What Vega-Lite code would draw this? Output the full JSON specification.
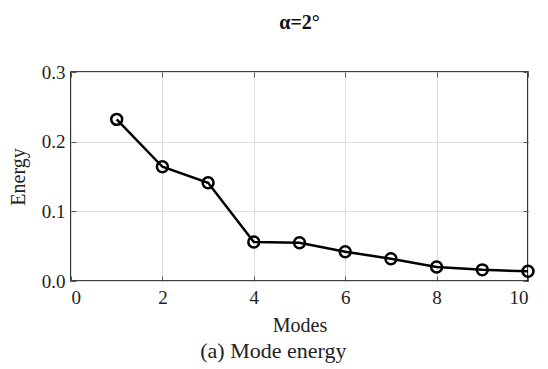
{
  "$schema": "https://vega.github.io/schema/vega-lite/v6.json",
  "background": "white",
  "padding": {"left": 7, "right": 3, "top": 12, "bottom": 2},
  "config": {
    "font": "Liberation Serif",
    "view": {"stroke": "black", "strokeWidth": 1.6},
    "axis": {"labelFont": "Liberation Serif", "titleFont": "Liberation Serif", "labelFontSize": 19, "titleFontSize": 20, "labelColor": "#222", "titleColor": "#222", "titleFontWeight": "normal"}
  },
  "title": {"text": "(a) Mode energy", "orient": "bottom", "anchor": "middle", "font": "Liberation Serif", "fontSize": 22, "fontWeight": "normal", "color": "#222", "offset": 5},
  "vconcat": [
    {
      "title": {"text": "α=2°", "anchor": "middle", "font": "Liberation Serif", "fontSize": 20, "fontWeight": "bold", "color": "#111", "offset": 30},
      "width": 457,
      "height": 209,
      "data": {"values": [
        {"mode": 1, "energy": 0.232},
        {"mode": 2, "energy": 0.164},
        {"mode": 3, "energy": 0.141},
        {"mode": 4, "energy": 0.056},
        {"mode": 5, "energy": 0.055},
        {"mode": 6, "energy": 0.042},
        {"mode": 7, "energy": 0.032},
        {"mode": 8, "energy": 0.020},
        {"mode": 9, "energy": 0.016},
        {"mode": 10, "energy": 0.014}
      ]},
      "layer": [
        {
          "mark": {"type": "line", "color": "black", "strokeWidth": 2.5},
          "encoding": {
            "x": {"field": "mode", "type": "quantitative", "scale": {"domain": [0, 10]},
              "axis": {"values": [0, 2, 4, 6, 8, 10], "title": "Modes", "grid": true, "gridColor": "#dcdcdc", "domain": false, "tickSize": -5, "tickColor": "#555", "labelPadding": 12, "titlePadding": 8}},
            "y": {"field": "energy", "type": "quantitative", "scale": {"domain": [0, 0.3]},
              "axis": {"values": [0, 0.1, 0.2, 0.3], "format": ".1f", "title": "Energy", "grid": true, "gridColor": "#dcdcdc", "domain": false, "tickSize": -5, "tickColor": "#555", "labelPadding": 11, "titlePadding": 13}}
          }
        },
        {
          "mark": {"type": "point", "shape": "circle", "filled": false, "stroke": "black", "strokeWidth": 2.5, "size": 120, "opacity": 1},
          "encoding": {
            "x": {"field": "mode", "type": "quantitative", "axis": {"orient": "top", "values": [0, 2, 4, 6, 8, 10], "labels": false, "title": null, "grid": false, "domain": false, "tickSize": -5, "tickColor": "#555"}},
            "y": {"field": "energy", "type": "quantitative", "axis": {"orient": "right", "values": [0, 0.1, 0.2, 0.3], "labels": false, "title": null, "grid": false, "domain": false, "tickSize": -5, "tickColor": "#555"}}
          }
        }
      ],
      "resolve": {"axis": {"x": "independent", "y": "independent"}}
    }
  ]
}
